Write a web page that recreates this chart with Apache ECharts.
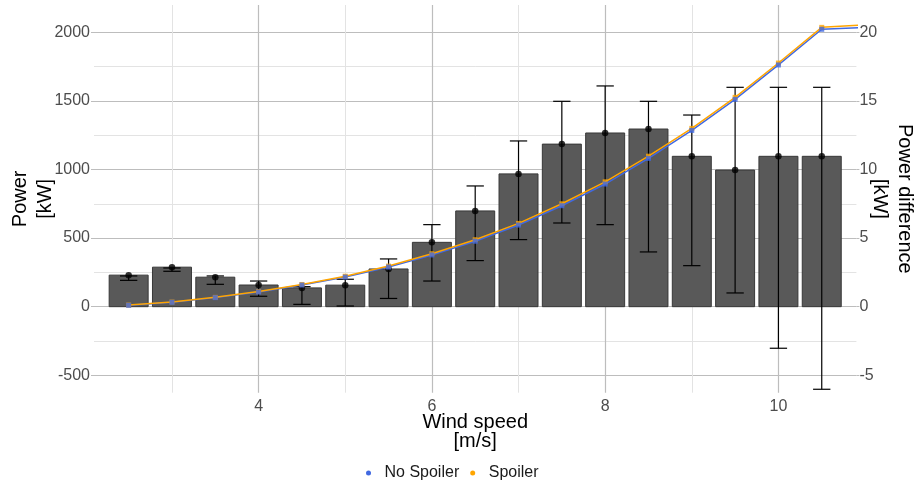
<!DOCTYPE html>
<html><head><meta charset="utf-8">
<script src="https://cdn.jsdelivr.net/npm/echarts@6/dist/echarts.min.js"></script>
<style>html,body{margin:0;padding:0;background:#fff}#c{width:914px;height:481px}</style>
</head><body><div id="c"></div>
<script>
// ---- data ----
const windSpeed = [2.5, 3, 3.5, 4, 4.5, 5, 5.5, 6, 6.5, 7, 7.5, 8, 8.5, 9, 9.5, 10, 10.5];
const diffMean = [2.3, 2.88, 2.15, 1.58, 1.37, 1.57, 2.75, 4.69, 6.98, 9.68, 11.85, 12.66, 12.95, 10.96, 9.96, 10.96, 10.96];
const diffLow = [1.92, 2.58, 1.63, 0.76, 0.17, 0.05, 0.6, 1.87, 3.36, 4.89, 6.1, 5.98, 3.99, 2.99, 1.0, -3.03, -6.02];
const diffHigh = [2.24, 2.82, 2.24, 1.87, 1.46, 2.0, 3.48, 5.98, 8.8, 12.08, 14.97, 16.09, 14.97, 13.97, 15.99, 15.99, 15.99];
const lineSpeed = [2.5, 3, 3.5, 4, 4.5, 5, 5.5, 6, 6.5, 7, 7.5, 8, 8.5, 9, 9.5, 10, 10.5, 11];
const powerNoSpoiler = [10, 32, 66, 107, 158, 216, 289, 377, 477, 595, 736, 894, 1081, 1285, 1511, 1762, 2022, 2036];
const powerSpoiler = [12, 34, 68, 110, 162, 222, 296, 386, 488, 607, 750, 910, 1097, 1300, 1526, 1776, 2036, 2055];
const powerTicks = [-500, 0, 500, 1000, 1500, 2000];
const powerMinor = [-250, 250, 750, 1250, 1750];
const diffTicks = [-5, 0, 5, 10, 15, 20];
const speedTicks = [4, 6, 8, 10];
const speedMinor = [3, 5, 7, 9];

// ---- chart ----
const FONT = '"Liberation Sans", Arial, sans-serif';
const MAJOR = '#bdbdbd', MINOR = '#e3e3e3';
const P_MIN = -627, P_MAX = 2199;
const X_MIN = 2.1, X_MAX = 10.9;
const BAR_W = 0.45, CAP_W = 0.2;
const plain = v => String(v);

const gridLines = [];
powerTicks.forEach(v => gridLines.push({yAxis: v, lineStyle: {color: MAJOR, width: 1.2, type: 'solid'}}));
powerMinor.forEach(v => gridLines.push({yAxis: v, lineStyle: {color: MINOR, width: 1, type: 'solid'}}));
speedTicks.forEach(v => gridLines.push({xAxis: v, lineStyle: {color: MAJOR, width: 1.2, type: 'solid'}}));
speedMinor.forEach(v => gridLines.push({xAxis: v, lineStyle: {color: MINOR, width: 1, type: 'solid'}}));

const chart = echarts.init(document.getElementById('c'), null, {renderer: 'canvas'});
const option = {
  animation: false,
  backgroundColor: '#ffffff',
  textStyle: {fontFamily: FONT},
  grid: {left: 94, right: 57.6, top: 5, bottom: 88.3, containLabel: false, outerBoundsMode: 'none'},
  legend: {
    data: [{name: 'No Spoiler', icon: 'circle'}, {name: 'Spoiler', icon: 'circle'}],
    left: 361, top: 460, itemWidth: 22, itemHeight: 5, itemGap: 11,
    textStyle: {fontSize: 16, color: '#1a1a1a', fontFamily: FONT},
    selectedMode: false
  },
  xAxis: {
    type: 'value', min: X_MIN, max: X_MAX,
    name: 'Wind speed\n[m/s]', nameLocation: 'middle', nameGap: 20, nameMoveOverlap: false,
    nameTextStyle: {fontSize: 20, color: '#000', lineHeight: 19, verticalAlign: 'top', fontFamily: FONT},
    axisLine: {show: false},
    axisTick: {show: true, length: 3, customValues: speedTicks, lineStyle: {color: MAJOR}},
    axisLabel: {customValues: speedTicks, formatter: plain, color: '#4d4d4d', fontSize: 16, margin: 6, fontFamily: FONT},
    splitLine: {show: false}
  },
  yAxis: [{
    type: 'value', min: P_MIN, max: P_MAX, position: 'left',
    name: 'Power\n[kW]', nameLocation: 'middle', nameGap: 36, nameMoveOverlap: false,
    nameTextStyle: {fontSize: 20, color: '#000', lineHeight: 25, fontFamily: FONT},
    axisLine: {show: false},
    axisTick: {show: true, length: 3, customValues: powerTicks, lineStyle: {color: MAJOR}},
    axisLabel: {customValues: powerTicks, formatter: plain, color: '#4d4d4d', fontSize: 16, margin: 4, fontFamily: FONT},
    splitLine: {show: false}
  }, {
    type: 'value', min: P_MIN / 100, max: P_MAX / 100, position: 'right',
    name: 'Power difference\n[kW]', nameLocation: 'middle', nameGap: 11, nameRotate: -90, nameMoveOverlap: false,
    nameTextStyle: {fontSize: 20, color: '#000', lineHeight: 25, fontFamily: FONT},
    axisLine: {show: false},
    axisTick: {show: true, length: 3, customValues: diffTicks, lineStyle: {color: MAJOR}},
    axisLabel: {customValues: diffTicks, formatter: plain, color: '#4d4d4d', fontSize: 16, margin: 3, fontFamily: FONT},
    splitLine: {show: false}
  }],
  series: [
    {
      type: 'line', name: '_grid', data: [], silent: true, z: 0,
      markLine: {silent: true, symbol: ['none', 'none'], label: {show: false}, z: 0, animation: false, data: gridLines}
    },
    {
      type: 'custom', name: '_bars', yAxisIndex: 1, z: 2,
      data: windSpeed.map((x, i) => [x, diffMean[i]]),
      encode: {x: 0, y: 1},
      renderItem: function (params, api) {
        const x = api.value(0), v = api.value(1);
        const p1 = api.coord([x - BAR_W / 2, v]);
        const p2 = api.coord([x + BAR_W / 2, 0]);
        return {type: 'rect', shape: {x: p1[0], y: Math.min(p1[1], p2[1]), width: p2[0] - p1[0], height: Math.abs(p2[1] - p1[1])},
          style: {fill: '#595959', stroke: '#383838', lineWidth: 1}};
      }
    },
    {
      type: 'custom', name: '_err', yAxisIndex: 1, z: 3,
      data: windSpeed.map((x, i) => [x, diffLow[i], diffHigh[i]]),
      encode: {x: 0, y: [1, 2]},
      renderItem: function (params, api) {
        const x = api.value(0);
        const lo = api.coord([x, api.value(1)]);
        const hi = api.coord([x, api.value(2)]);
        const a = api.coord([x - CAP_W / 2, api.value(1)]);
        const b = api.coord([x + CAP_W / 2, api.value(1)]);
        const c = api.coord([x - CAP_W / 2, api.value(2)]);
        const d = api.coord([x + CAP_W / 2, api.value(2)]);
        const st = {stroke: '#000', lineWidth: 1.2};
        return {type: 'group', children: [
          {type: 'line', shape: {x1: lo[0], y1: lo[1], x2: hi[0], y2: hi[1]}, style: st},
          {type: 'line', shape: {x1: a[0], y1: a[1], x2: b[0], y2: b[1]}, style: st},
          {type: 'line', shape: {x1: c[0], y1: c[1], x2: d[0], y2: d[1]}, style: st}
        ]};
      }
    },
    {
      type: 'scatter', name: '_mean', yAxisIndex: 1, z: 4,
      data: windSpeed.map((x, i) => [x, diffMean[i]]),
      symbol: 'circle', symbolSize: 6.5, itemStyle: {color: '#000'}
    },
    {
      type: 'line', name: 'No Spoiler', yAxisIndex: 0, z: 5,
      data: lineSpeed.map((x, i) => [x, powerNoSpoiler[i]]),
      showSymbol: false, lineStyle: {color: '#4169E1', width: 1.5}, itemStyle: {color: '#4169E1'}
    },
    {
      type: 'line', name: 'Spoiler', yAxisIndex: 0, z: 6,
      data: lineSpeed.map((x, i) => [x, powerSpoiler[i]]),
      showSymbol: false, lineStyle: {color: '#FFA500', width: 1.5}, itemStyle: {color: '#FFA500'}
    },
    {
      type: 'scatter', name: 'Spoiler', yAxisIndex: 0, z: 7,
      data: windSpeed.map((x, i) => [x, powerSpoiler[i]]),
      symbol: 'rect', symbolSize: 5, itemStyle: {color: '#FFA500'}
    },
    {
      type: 'scatter', name: 'No Spoiler', yAxisIndex: 0, z: 8,
      data: windSpeed.map((x, i) => [x, powerNoSpoiler[i]]),
      symbol: 'rect', symbolSize: 5, itemStyle: {color: '#4169E1'}
    }
  ]
};
chart.setOption(option);
</script>
</body></html>
